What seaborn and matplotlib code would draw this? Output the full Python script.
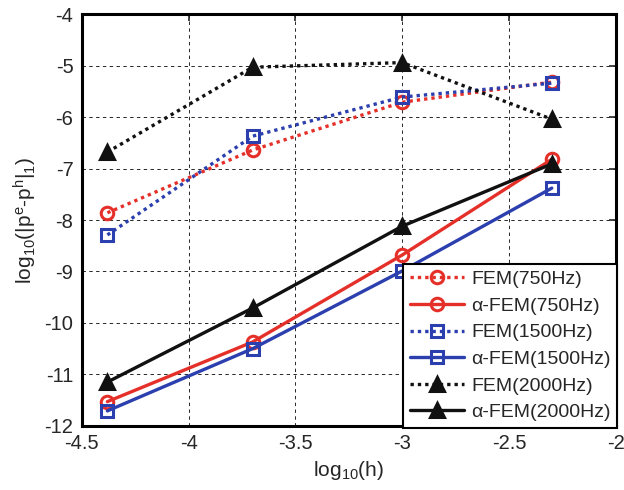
import matplotlib
matplotlib.use("Agg")
import matplotlib.pyplot as plt
import seaborn as sns
import pandas as pd

x_vals = [-4.38, -3.70, -3.0, -2.30]
fem_750 = [-7.86, -6.64, -5.71, -5.32]
afem_750 = [-11.53, -10.37, -8.68, -6.82]
fem_1500 = [-8.29, -6.37, -5.61, -5.34]
afem_1500 = [-11.71, -10.50, -8.99, -7.38]
fem_2000 = [-6.68, -5.03, -4.94, -6.04]
afem_2000 = [-11.15, -9.71, -8.12, -6.91]
labels = ["FEM(750Hz)", "α-FEM(750Hz)", "FEM(1500Hz)", "α-FEM(1500Hz)",
          "FEM(2000Hz)", "α-FEM(2000Hz)"]
xticks = [-4.5, -4, -3.5, -3, -2.5, -2]
yticks = [-12, -11, -10, -9, -8, -7, -6, -5, -4]

sns.set_style("white")
plt.rcParams['font.family'] = ['Liberation Sans', 'DejaVu Sans']
plt.rcParams['mathtext.fontset'] = 'custom'
plt.rcParams['mathtext.rm'] = 'Liberation Sans'
plt.rcParams['mathtext.it'] = 'Liberation Sans'

red = "#e5302a"
blue = "#2c3fae"
black = "#111111"
series = [fem_750, afem_750, fem_1500, afem_1500, fem_2000, afem_2000]
colors = [red, red, blue, blue, black, black]
styles = [(0, (1, 1.2)), "-", (0, (1, 1.2)), "-", (0, (1, 1.2)), "-"]
markers = ["o", "o", "s", "s", "^", "^"]
filled = [False, False, False, False, True, True]

fig = plt.figure(figsize=(6.24, 4.9), dpi=100)
ax = fig.add_axes([0.131, 0.131, 0.856, 0.84])

for ys, lab, c, ls, m, f in zip(series, labels, colors, styles, markers, filled):
    df = pd.DataFrame({"x": x_vals, "y": ys})
    sns.lineplot(data=df, x="x", y="y", ax=ax, color=c, linestyle=ls, linewidth=2.4,
                 marker=m, markersize=(9.5 if m == "^" else 9), markeredgewidth=2.2,
                 markerfacecolor=(c if f else "none"), markeredgecolor=c,
                 label=lab, dash_capstyle="butt")

ax.set_xlim(-4.5, -2)
ax.set_ylim(-12, -4)
ax.set_xticks(xticks)
ax.set_xticklabels([f"{t:g}" for t in xticks])
ax.set_yticks(yticks)
ax.set_yticklabels([f"{t:g}" for t in yticks])
ax.grid(True, color="black", linestyle=(0, (3.5, 3.5)), linewidth=0.7, alpha=0.85)
ax.tick_params(direction="in", length=5, width=1.2, labelsize=14.5, top=True, right=True,
               labeltop=False, labelright=False, pad=6)
for s in ax.spines.values():
    s.set_linewidth(2.2)
    s.set_color("black")
ax.set_xlabel(r"log$_{\mathrm{10}}$(h)", fontsize=15)
ax.set_ylabel(r"log$_{\mathrm{10}}$(|p$^{\mathrm{e}}$-p$^{\mathrm{h}}$|$_{\mathrm{1}}$)", fontsize=15)

leg = ax.legend(loc="lower right", bbox_to_anchor=(1.003, -0.005), fontsize=14,
                frameon=True, fancybox=False, edgecolor="black", framealpha=1,
                handlelength=2.8, borderpad=0.35, labelspacing=0.46, handletextpad=0.35,
                borderaxespad=0)
leg.get_frame().set_linewidth(1.5)

fig.savefig("out.png", dpi=100)
